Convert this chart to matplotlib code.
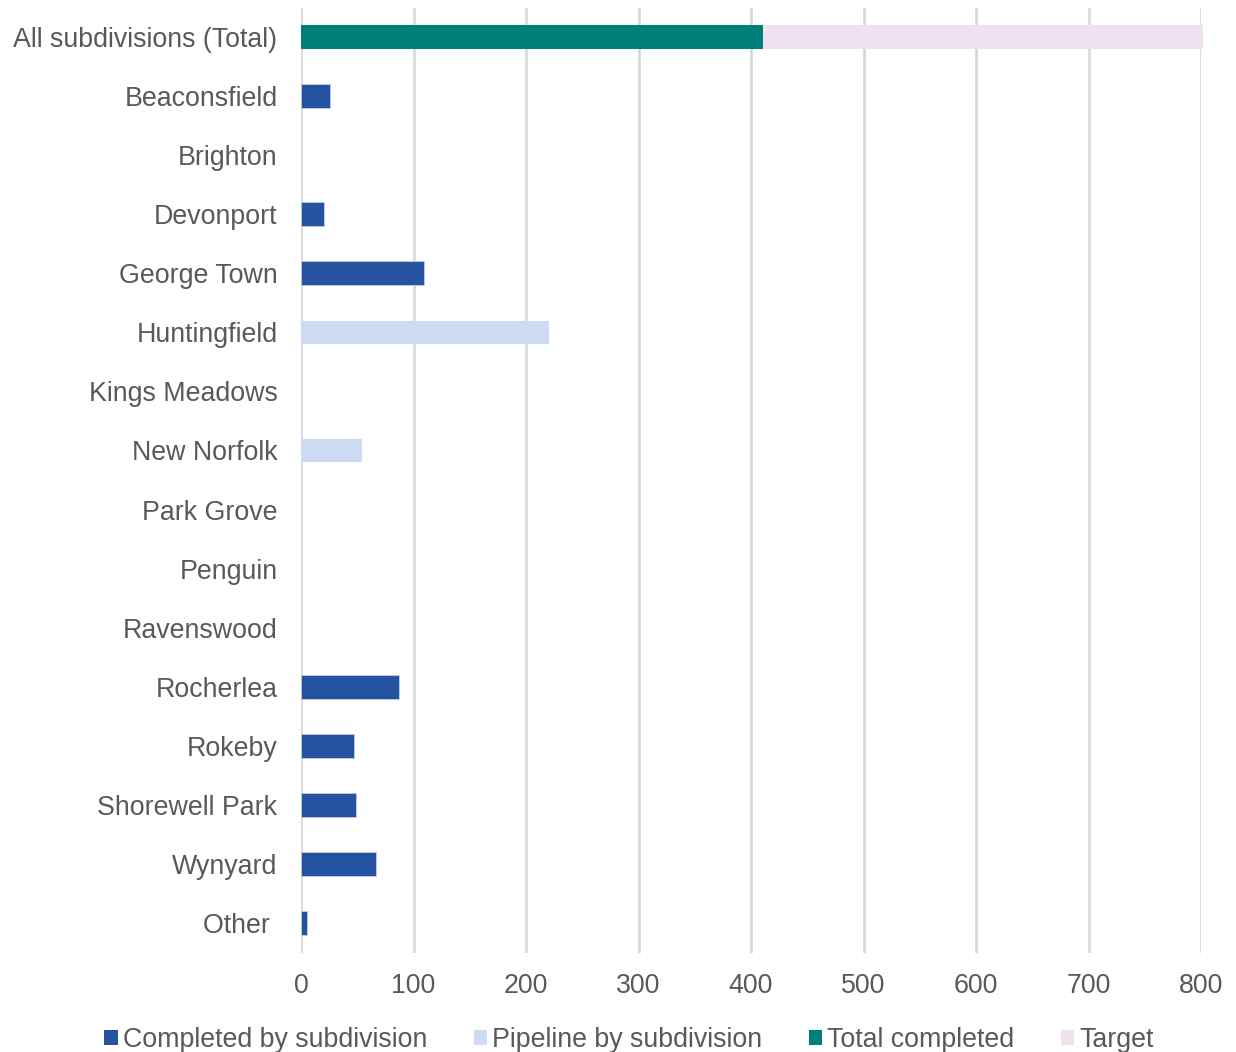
#/usr/bin/python3

import numpy as np
import matplotlib.pyplot as plt

plt.rcParams['font.family'] = ['Liberation Sans', 'DejaVu Sans']

# categories, top to bottom
categories = ["All subdivisions (Total)", "Beaconsfield", "Brighton", "Devonport",
              "George Town", "Huntingfield", "Kings Meadows", "New Norfolk",
              "Park Grove", "Penguin", "Ravenswood", "Rocherlea", "Rokeby",
              "Shorewell Park", "Wynyard", "Other "]

completed = [0, 26, 0, 20, 109, 0, 0, 0, 0, 0, 0, 87, 47, 49, 67, 5]
pipeline = [0, 0, 0, 0, 0, 220, 0, 54, 0, 0, 0, 0, 0, 0, 0, 0]
total_completed = [411, 0, 0, 0, 0, 0, 0, 0, 0, 0, 0, 0, 0, 0, 0, 0]
target = [391, 0, 0, 0, 0, 0, 0, 0, 0, 0, 0, 0, 0, 0, 0, 0]

xticks = [0, 100, 200, 300, 400, 500, 600, 700, 800]

c_done = "#2553A0"
c_pipe = "#CCDAF4"
c_total = "#007E7A"
c_target = "#EFE1F0"
txt = "#595959"
fs = 19.3

fig = plt.figure(figsize=(12.36, 10.52), dpi=100)
ax = fig.add_axes([301/1236, 1 - 952.5/1052, 900/1236, 945/1052])

y = np.arange(len(categories))
h = 0.4
# light outline only on non-empty bars
edge_w = [0.6 if v > 0 else 0 for v in completed]
ax.barh(y, completed, height=h, color=c_done, edgecolor="#BFCDE6", linewidth=edge_w,
        label="Completed by subdivision", zorder=3)
ax.barh(y, pipeline, left=completed, height=h, color=c_pipe, linewidth=0,
        label="Pipeline by subdivision", zorder=3)
ax.barh(y, total_completed, height=h, color=c_total, linewidth=0,
        label="Total completed", zorder=3)
ax.barh(y, target, left=total_completed, height=h, color=c_target, linewidth=0,
        label="Target", zorder=3, clip_on=False)

ax.set_ylim(len(categories) - 0.5, -0.5)
ax.set_xlim(0, 800)
ax.set_yticks(y)
ax.set_yticklabels(categories)
ax.set_xticks(xticks)

ax.tick_params(axis='both', length=0, labelsize=fs, colors=txt)
ax.tick_params(axis='y', pad=17)
ax.tick_params(axis='x', pad=14.5)

ax.grid(axis='x', color="#D9D9D9", linewidth=2, zorder=0)
for s in ax.spines.values():
    s.set_visible(False)

ax.legend(loc='center', bbox_to_anchor=(0.5 - 0.1356, -0.0926), ncol=4,
          frameon=False, fontsize=fs, handlelength=0.5, handleheight=0.5,
          handletextpad=0.2, columnspacing=1.72, labelcolor=txt)

fig.savefig("out.png", dpi=100)
